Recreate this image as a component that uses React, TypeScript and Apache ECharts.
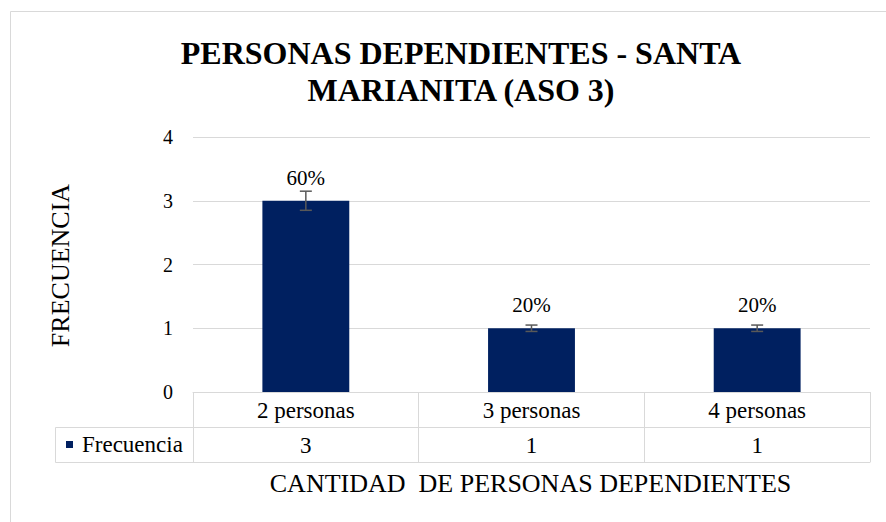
import React, { useEffect, useRef } from "react";
import * as echarts from "echarts";

const titleLines = ["PERSONAS DEPENDIENTES - SANTA", "MARIANITA (ASO 3)"];
const categories = ["2 personas", "3 personas", "4 personas"];
const seriesName = "Frecuencia";
const values = [3, 1, 1];
const yTicks = { min: 0, max: 4, interval: 1 };
const errorPct = 0.05;
const yTitle = "FRECUENCIA";
const xTitle = "CANTIDAD  DE PERSONAS DEPENDIENTES";

const FONT = "Liberation Serif, Times New Roman, serif";
const GRID = "#d9d9d9";
const BAR = "#002060";

export default function App() {
  const ref = useRef<HTMLDivElement>(null);
  useEffect(() => {
    if (!ref.current) return;
    const chart = echarts.init(ref.current, undefined, { renderer: "svg" });
    const total = values.reduce((a, b) => a + b, 0);
    const errData = values.map((v, i) => [i, v * (1 - errorPct), v * (1 + errorPct)]);

    chart.setOption({
      animation: false,
      backgroundColor: "#fff",
      textStyle: { fontFamily: FONT },
      title: {
        text: titleLines.join("\n"),
        left: 456,
        top: 29,
        textAlign: "center",
        textStyle: { fontFamily: FONT, fontSize: 32, fontWeight: "bold", color: "#000", lineHeight: 37 },
      },
      legend: {
        data: [seriesName],
        left: 66,
        top: 433,
        padding: 0,
        icon: "rect",
        itemWidth: 7,
        itemHeight: 7,
        selectedMode: false,
        textStyle: { fontFamily: FONT, fontSize: 23, color: "#000", padding: [0, 0, 0, 4] },
      },
      grid: { left: 193, right: 16, top: 137, bottom: 130, containLabel: false },
      xAxis: [
        {
          type: "category",
          data: categories,
          position: "bottom",
          axisLine: { show: true, lineStyle: { color: GRID, width: 1 } },
          axisTick: { show: true, alignWithLabel: false, length: 70, lineStyle: { color: GRID, width: 1 } },
          axisLabel: { fontFamily: FONT, fontSize: 23, color: "#000", margin: 7 },
          splitLine: { show: false },
        },
        {
          type: "category",
          data: values.map(String),
          position: "bottom",
          offset: 35,
          axisLine: { show: true, lineStyle: { color: GRID, width: 1 } },
          axisTick: { show: false },
          axisLabel: { fontFamily: FONT, fontSize: 23, color: "#000", margin: 7 },
        },
        {
          type: "category",
          data: categories,
          position: "bottom",
          offset: 70,
          axisLine: { show: true, lineStyle: { color: GRID, width: 1 } },
          axisTick: { show: false },
          axisLabel: { show: false },
        },
      ],
      yAxis: {
        type: "value",
        min: yTicks.min,
        max: yTicks.max,
        interval: yTicks.interval,
        axisLine: { show: false },
        axisTick: { show: false },
        axisLabel: { fontFamily: FONT, fontSize: 20, color: "#000", margin: 20 },
        splitLine: { show: true, lineStyle: { color: GRID, width: 1 } },
      },
      graphic: [
        {
          type: "rect",
          shape: { x: 10.5, y: 11.5, width: 900, height: 600 },
          style: { fill: "none", stroke: GRID, lineWidth: 1 },
          silent: true,
        },
        {
          type: "polyline",
          shape: { points: [[193, 427.5], [55.5, 427.5], [55.5, 462.5], [193, 462.5]] },
          style: { fill: "none", stroke: GRID, lineWidth: 1 },
          silent: true,
        },
        {
          type: "text",
          x: 60,
          y: 265.5,
          rotation: Math.PI / 2,
          style: { text: yTitle, fontFamily: FONT, fontSize: 26, fill: "#000", align: "center", verticalAlign: "middle" },
        },
        {
          type: "text",
          x: 530.5,
          y: 483.5,
          style: { text: xTitle, fontFamily: FONT, fontSize: 26, fill: "#000", align: "center", verticalAlign: "middle" },
        },
      ],
      series: [
        {
          name: seriesName,
          type: "bar",
          data: values,
          barWidth: "38.5%",
          itemStyle: { color: BAR },
          label: {
            show: true,
            position: "top",
            distance: 12.5,
            fontFamily: FONT,
            fontSize: 21,
            color: "#000",
            formatter: (p: any) => Math.round((p.value / total) * 100) + "%",
          },
        },
        {
          type: "custom",
          name: "error",
          data: errData,
          z: 5,
          renderItem: (_params: any, api: any) => {
            const i = api.value(0);
            const lo = api.coord([i, api.value(1)]);
            const hi = api.coord([i, api.value(2)]);
            const x = lo[0];
            const hw = 6;
            const style = { stroke: "#595959", lineWidth: 1.5 };
            return {
              type: "group",
              children: [
                { type: "line", shape: { x1: x, y1: lo[1], x2: x, y2: hi[1] }, style },
                { type: "line", shape: { x1: x - hw, y1: lo[1], x2: x + hw, y2: lo[1] }, style },
                { type: "line", shape: { x1: x - hw, y1: hi[1], x2: x + hw, y2: hi[1] }, style },
              ],
            };
          },
        },
      ],
    });
    return () => chart.dispose();
  }, []);
  return <div ref={ref} style={{ position: "absolute", left: 0, top: 0, width: 886, height: 522 }} />;
}
